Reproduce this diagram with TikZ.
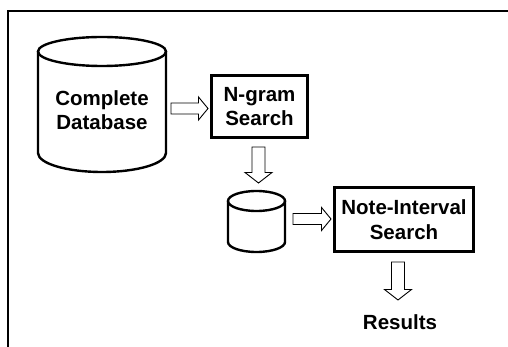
\documentclass[tikz,border=0pt]{standalone}
\usepackage{fontspec}
\setmainfont{Liberation Sans}
\usetikzlibrary{calc}
\newcommand\hblockarrow[2]{%
  \draw[barrow] let \p1=(#1), \p2=(#2) in
    (\x1,\y1+5.5pt) -- (\x2-9.5pt,\y1+5.5pt) -- (\x2-9.5pt,\y1+11.5pt) -- (\x2,\y1)
    -- (\x2-9.5pt,\y1-11.5pt) -- (\x2-9.5pt,\y1-5.5pt) -- (\x1,\y1-5.5pt) -- cycle;}
\newcommand\vblockarrow[2]{%
  \draw[barrow] let \p1=(#1), \p2=(#2) in
    (\x1-6.5pt,\y1) -- (\x1-6.5pt,\y2+10.5pt) -- (\x1-13.5pt,\y2+10.5pt) -- (\x1,\y2)
    -- (\x1+13.5pt,\y2+10.5pt) -- (\x1+6.5pt,\y2+10.5pt) -- (\x1+6.5pt,\y1) -- cycle;}
\begin{document}
\begin{tikzpicture}[x=1pt,y=-1pt,
  lbl/.style={font=\fontsize{20.5}{24.5}\selectfont\bfseries, align=center, inner sep=0pt},
  box/.style={lbl, draw, line width=2.6pt},
  cyl/.style={line width=2.4pt},
  barrow/.style={draw, line width=0.9pt, fill=white, line join=miter}]
\useasboundingbox (0,0) rectangle (508,347);
% frame
\draw[line width=2.8pt] (8,348) -- (8,11) -- (509,11);
% big database cylinder
\draw[cyl] (102,51.5) ellipse [x radius=64pt, y radius=14.5pt];
\draw[cyl] (38,51.5) -- (38,153) arc[start angle=180, end angle=360, x radius=64pt, y radius=19pt] -- (166,51.5);
\node[lbl] (db) at (102,110) {Complete\\Database};
% N-gram box
\node[box, minimum width=96pt, minimum height=62pt] (ngram) at (259.5,106.5) {N-gram\\Search};
% small database cylinder
\draw[cyl] (256.5,201) ellipse [x radius=28.5pt, y radius=10pt];
\draw[cyl] (228,201) -- (228,242) arc[start angle=180, end angle=360, x radius=28.5pt, y radius=10pt] -- (285,201);
\coordinate (smalldb) at (256.5,221);
% Note-Interval box
\node[box, minimum width=139pt, minimum height=64pt] (note) at (404,219.5) {Note-Interval\\Search};
% results
\node[lbl] (res) at (400,322) {Results};
% arrows
\coordinate (a1s) at (171,108.5);
\coordinate (a1e) at (208,108.5);
\coordinate (a2s) at (258.5,147);
\coordinate (a2e) at (258.5,183);
\coordinate (a3s) at (293,219);
\coordinate (a3e) at (331,219);
\coordinate (a4s) at (398,262);
\coordinate (a4e) at (398,300);
\hblockarrow{a1s}{a1e}
\vblockarrow{a2s}{a2e}
\hblockarrow{a3s}{a3e}
\vblockarrow{a4s}{a4e}
\end{tikzpicture}
\end{document}
